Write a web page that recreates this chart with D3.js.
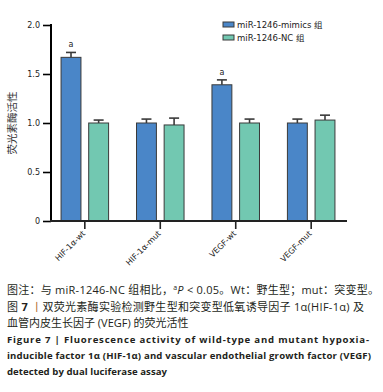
<!DOCTYPE html>
<html>
<head>
<meta charset="utf-8">
<script src="https://cdn.jsdelivr.net/npm/d3@7"></script>
<style>
  body { margin: 0; background: #fff; }
  svg { display: block; }
</style>
</head>
<body>
<div id="chart"></div>
<script>
// data
const groups = ["HIF-1α-wt", "HIF-1α-mut", "VEGF-wt", "VEGF-mut"];
const seriesNames = ["miR-1246-mimics 组", "miR-1246-NC 组"];
const mimicsMean = [1.67, 1.00, 1.39, 1.00];
const mimicsErr = [0.05, 0.04, 0.05, 0.04];
const ncMean = [1.00, 0.98, 1.00, 1.03];
const ncErr = [0.03, 0.07, 0.04, 0.05];
const sigMarks = ["a", "", "a", ""];
const yTicks = [0, 0.5, 1.0, 1.5, 2.0];
const yLabel = "荧光素酶活性";

const W = 383, H = 392;
const colors = ["#4a86c8", "#72c8b1"];
const cjk = "'Noto Sans CJK SC', 'Noto Sans', sans-serif";
const tickFont = "'DejaVu Sans', Verdana, sans-serif";

const svg = d3.select("#chart").append("svg")
  .attr("width", W)
  .attr("height", H);

// scales
const y = d3.scaleLinear().domain([0, 2]).range([221, 25]);

const x = d3.scaleBand()
  .domain(groups)
  .range([52, 344])
  .paddingInner(0.37)
  .paddingOuter(0.12);

const xSub = d3.scaleBand()
  .domain(seriesNames)
  .range([0, x.bandwidth()])
  .paddingInner(0.28);

// rows: one per bar
const rows = [];
groups.forEach((g, i) => {
  rows.push({group: g, s: seriesNames[0], v: mimicsMean[i], e: mimicsErr[i], k: 0});
  rows.push({group: g, s: seriesNames[1], v: ncMean[i], e: ncErr[i], k: 1});
});

// bars
svg.append("g").selectAll("rect")
  .data(rows)
  .join("rect")
    .attr("x", d => x(d.group) + xSub(d.s))
    .attr("y", d => y(d.v))
    .attr("width", xSub.bandwidth())
    .attr("height", d => y(0) - y(d.v))
    .attr("fill", d => colors[d.k])
    .attr("stroke", "#3a3a3a")
    .attr("stroke-width", 1);

// error bars (upper only)
const err = svg.append("g")
  .attr("stroke", "#3a3a3a")
  .attr("stroke-width", 1.6);

rows.forEach(d => {
  const cx = x(d.group) + xSub(d.s) + xSub.bandwidth() / 2;
  err.append("line")
    .attr("x1", cx).attr("x2", cx)
    .attr("y1", y(d.v)).attr("y2", y(d.v + d.e));
  err.append("line")
    .attr("x1", cx - 5).attr("x2", cx + 5)
    .attr("y1", y(d.v + d.e)).attr("y2", y(d.v + d.e));
});

// significance marks
svg.append("g").selectAll("text")
  .data(groups)
  .join("text")
    .attr("x", g => x(g) + xSub(seriesNames[0]) + xSub.bandwidth() / 2)
    .attr("y", (g, i) => y(mimicsMean[i] + mimicsErr[i]) - 5)
    .attr("text-anchor", "middle")
    .style("font-family", tickFont)
    .style("font-size", "8px")
    .style("fill", "#222")
    .text((g, i) => sigMarks[i]);

// Y axis
const yAxis = svg.append("g")
  .attr("transform", "translate(51,0)")
  .call(d3.axisLeft(y)
    .tickValues(yTicks)
    .tickSize(8)
    .tickPadding(3)
    .tickFormat(d => d === 0 ? "0" : d3.format(".1f")(d)));
yAxis.select(".domain").attr("stroke-width", 2).attr("d", `M0,${y(2) - 1}V${y(0) + 1}`);
yAxis.selectAll(".tick line").attr("stroke-width", 1.6);
yAxis.selectAll("text")
  .style("font-family", tickFont)
  .style("font-size", "8px")
  .style("fill", "#222");

// X axis
svg.append("line")
  .attr("x1", 50).attr("x2", 347)
  .attr("y1", y(0)).attr("y2", y(0))
  .attr("stroke", "#222")
  .attr("stroke-width", 2);

const xt = svg.append("g").selectAll("g")
  .data(groups)
  .join("g")
    .attr("transform", g => `translate(${x(g) + x.bandwidth() / 2},${y(0)})`);

xt.append("line")
  .attr("y1", 0).attr("y2", 8)
  .attr("stroke", "#222")
  .attr("stroke-width", 1.6);

xt.append("text")
  .attr("transform", "translate(1,13) rotate(-45)")
  .attr("text-anchor", "end")
  .style("font-family", tickFont)
  .style("font-size", "8px")
  .style("fill", "#222")
  .text(g => g);

// Y label
svg.append("text")
  .attr("transform", `translate(16,${(y(0) + y(2)) / 2}) rotate(-90)`)
  .attr("text-anchor", "middle")
  .style("font-family", cjk)
  .style("font-size", "10.5px")
  .style("fill", "#333")
  .text(yLabel);

// legend
const legend = svg.append("g")
  .attr("transform", "translate(223,22)");

const li = legend.selectAll("g")
  .data(seriesNames)
  .join("g")
    .attr("transform", (d, i) => `translate(0,${i * 13})`);

li.append("rect")
  .attr("width", 11)
  .attr("height", 5)
  .attr("fill", (d, i) => colors[i])
  .attr("stroke", "#3a3a3a")
  .attr("stroke-width", 1);

li.append("text")
  .attr("x", 14)
  .attr("y", 6)
  .style("font-family", "'DejaVu Sans', " + cjk)
  .style("font-size", "8.5px")
  .style("fill", "#222")
  .text(d => d);

// caption
const cap = svg.append("g")
  .style("font-family", "'Open Sans', " + cjk)
  .style("fill", "#231f20");

const l1 = cap.append("text")
  .attr("x", 7).attr("y", 294)
  .attr("textLength", 372)
  .attr("lengthAdjust", "spacing")
  .style("font-size", "11px");
l1.append("tspan").text("图注：与 miR-1246-NC 组相比，");
l1.append("tspan").attr("dy", -4).style("font-size", "7px").text("a");
l1.append("tspan").attr("dy", 4).style("font-style", "italic").text("P");
l1.append("tspan").text(" < 0.05。Wt：野生型；mut：突变型。");

const l2 = cap.append("text")
  .attr("x", 7).attr("y", 311)
  .attr("textLength", 357)
  .attr("lengthAdjust", "spacing")
  .style("font-size", "11px");
l2.append("tspan").text("图 ");
l2.append("tspan").style("font-weight", "bold").text("7");
l2.append("tspan").style("fill", "#b0682a").text(" 丨");
l2.append("tspan").text("双荧光素酶实验检测野生型和突变型低氧诱导因子 1α(HIF-1α) 及");

cap.append("text")
  .attr("x", 7).attr("y", 327)
  .style("font-size", "11px")
  .text("血管内皮生长因子 (VEGF) 的荧光活性");

const en = [
  {t: "Figure 7   |   Fluorescence activity of wild-type and mutant hypoxia-", y: 343, len: 362},
  {t: "inducible factor 1α (HIF-1α) and vascular endothelial growth factor (VEGF)", y: 359, len: 364},
  {t: "detected by dual luciferase assay", y: 375, len: 160}
];
en.forEach(l => {
  cap.append("text")
    .attr("x", 7).attr("y", l.y)
    .attr("textLength", l.len)
    .attr("lengthAdjust", "spacing")
    .style("font-size", "9.6px")
    .style("font-weight", "bold")
    .text(l.t);
});
</script>
</body>
</html>
